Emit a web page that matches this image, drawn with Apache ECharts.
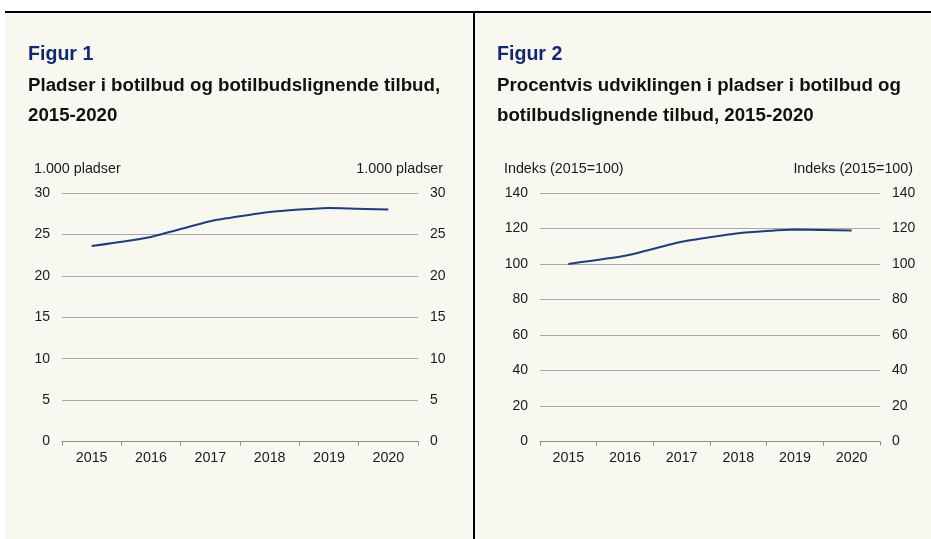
<!DOCTYPE html>
<html>
<head>
<meta charset="utf-8">
<script src="https://cdn.jsdelivr.net/npm/echarts@6/dist/echarts.min.js"></script>
<style>
html,body{margin:0;padding:0;background:#ffffff;}
#c{width:931px;height:539px;}
</style>
</head>
<body>
<div id="c"></div>
<script>
var years = ['2015','2016','2017','2018','2019','2020'];
var pladser = [23.6, 24.7, 26.6, 27.7, 28.2, 28.0];
var indeks = [100, 104.6, 112.5, 117.3, 119.4, 118.9];
var fig1Title = 'Figur 1';
var fig1Sub = ['Pladser i botilbud og botilbudslignende tilbud,', '2015-2020'];
var fig2Title = 'Figur 2';
var fig2Sub = ['Procentvis udviklingen i pladser i botilbud og', 'botilbudslignende tilbud, 2015-2020'];
var unit1 = '1.000 pladser';
var unit2 = 'Indeks (2015=100)';

var FONT = '"Liberation Sans", Arial, sans-serif';
var txt = '#1a1a1a';
var gridCol = '#a9a9a9';
var lineCol = '#1f3d7a';

function yAx(gridIndex, pos, max, interval, primary) {
  return {
    type: 'value', gridIndex: gridIndex, position: pos, min: 0, max: max, interval: interval,
    axisLine: {show: false}, axisTick: {show: false},
    axisLabel: {color: txt, fontFamily: FONT, fontSize: 14, margin: 12},
    splitLine: {show: primary, lineStyle: {color: gridCol, width: 1}}
  };
}
function xAx(gridIndex) {
  return {
    type: 'category', gridIndex: gridIndex, data: years, boundaryGap: true,
    axisLine: {show: true, lineStyle: {color: '#8c8c8c', width: 1}},
    axisTick: {show: true, inside: false, length: 4, lineStyle: {color: '#8c8c8c'}},
    axisLabel: {color: txt, fontFamily: FONT, fontSize: 14.3, margin: 10}
  };
}
function t(x, y, s, size, color, align, bold) {
  return {type: 'text', x: x, y: y, style: {text: s, fontFamily: FONT, fontSize: size, fontWeight: bold ? 'bold' : 'normal', fill: color, align: align || 'left', verticalAlign: 'middle'}};
}

var chart = echarts.init(document.getElementById('c'), null, {renderer: 'canvas'});
chart.setOption({
  backgroundColor: '#ffffff',
  animation: false,
  graphic: [
    {type: 'rect', shape: {x: 5, y: 12, width: 926, height: 527}, style: {fill: '#f8f8f0'}, z: -10},
    {type: 'rect', shape: {x: 5, y: 11, width: 926, height: 2}, style: {fill: '#000000'}, z: -5},
    {type: 'rect', shape: {x: 473, y: 11, width: 2, height: 528}, style: {fill: '#000000'}, z: -5},
    t(28, 54.5, fig1Title, 19.6, '#13296b', 'left', true),
    t(28, 86, fig1Sub[0], 18.7, '#111111', 'left', true),
    t(28, 115.5, fig1Sub[1], 18.7, '#111111', 'left', true),
    t(497, 54.5, fig2Title, 19.6, '#13296b', 'left', true),
    t(497, 86, fig2Sub[0], 18.7, '#111111', 'left', true),
    t(497, 115.5, fig2Sub[1], 18.7, '#111111', 'left', true),
    t(34, 169, unit1, 14.3, txt, 'left'),
    t(443, 169, unit1, 14.3, txt, 'right'),
    t(504, 169, unit2, 14.3, txt, 'left'),
    t(913, 169, unit2, 14.3, txt, 'right')
  ],
  grid: [
    {left: 62, top: 193, width: 356, height: 248.5},
    {left: 540, top: 193, width: 340, height: 248.5}
  ],
  xAxis: [xAx(0), xAx(1)],
  yAxis: [
    yAx(0, 'left', 30, 5, true),
    yAx(0, 'right', 30, 5, false),
    yAx(1, 'left', 140, 20, true),
    yAx(1, 'right', 140, 20, false)
  ],
  series: [
    {type: 'line', xAxisIndex: 0, yAxisIndex: 0, data: pladser, smooth: 0.15, showSymbol: false, lineStyle: {color: lineCol, width: 2}, z: 5},
    {type: 'line', xAxisIndex: 1, yAxisIndex: 2, data: indeks, smooth: 0.15, showSymbol: false, lineStyle: {color: lineCol, width: 2}, z: 5}
  ]
});
</script>
</body>
</html>
